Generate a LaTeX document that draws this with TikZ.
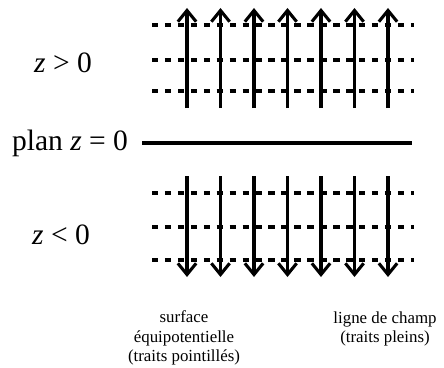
\documentclass[tikz,border=0pt]{standalone}
\usepackage{fontspec}
\setmainfont{Liberation Serif}
\usetikzlibrary{arrows.meta}
\begin{document}
\begin{tikzpicture}[x=0.025cm,y=-0.025cm]
            \def\xa{187}
            \def\pas{33.5}
            \tikzset{lc/.style={line width=2.2pt,-{Straight Barb[length=8pt,width=13pt,line width=2.2pt]}},
                eq/.style={line width=2.5pt,dash pattern=on 4.6pt off 4.6pt},
                gros/.style={font=\fontsize{21}{25}\selectfont},
                leg/.style={font=\fontsize{12}{13.8}\selectfont,align=center}}
            \useasboundingbox(0,0)rectangle(444,367);
            % surfaces equipotentielles
            \foreach \y in {25,60,91,193,227,260}
            \draw[eq](152,\y)--(414,\y);
            % lignes de champ
            \foreach \i in {0,...,6}{
                \draw[lc](\xa+\i*\pas,108)--(\xa+\i*\pas,8);
                \draw[lc](\xa+\i*\pas,176)--(\xa+\i*\pas,277);}
            \draw[line width=2.2pt](142,143)--(412,143);
            \path(63,63)node[gros](zp){\textit{z} > 0}
            (70,143)node[gros](plan){plan \textit{z} = 0}
            (61,235)node[gros](zn){\textit{z} < 0};
            \path(184,338)node[leg](surf){surface\\équipotentielle\\(traits pointillés)}
            (385,329)node[leg](ligne){ligne de champ\\(traits pleins)};
        \end{tikzpicture}
\end{document}
